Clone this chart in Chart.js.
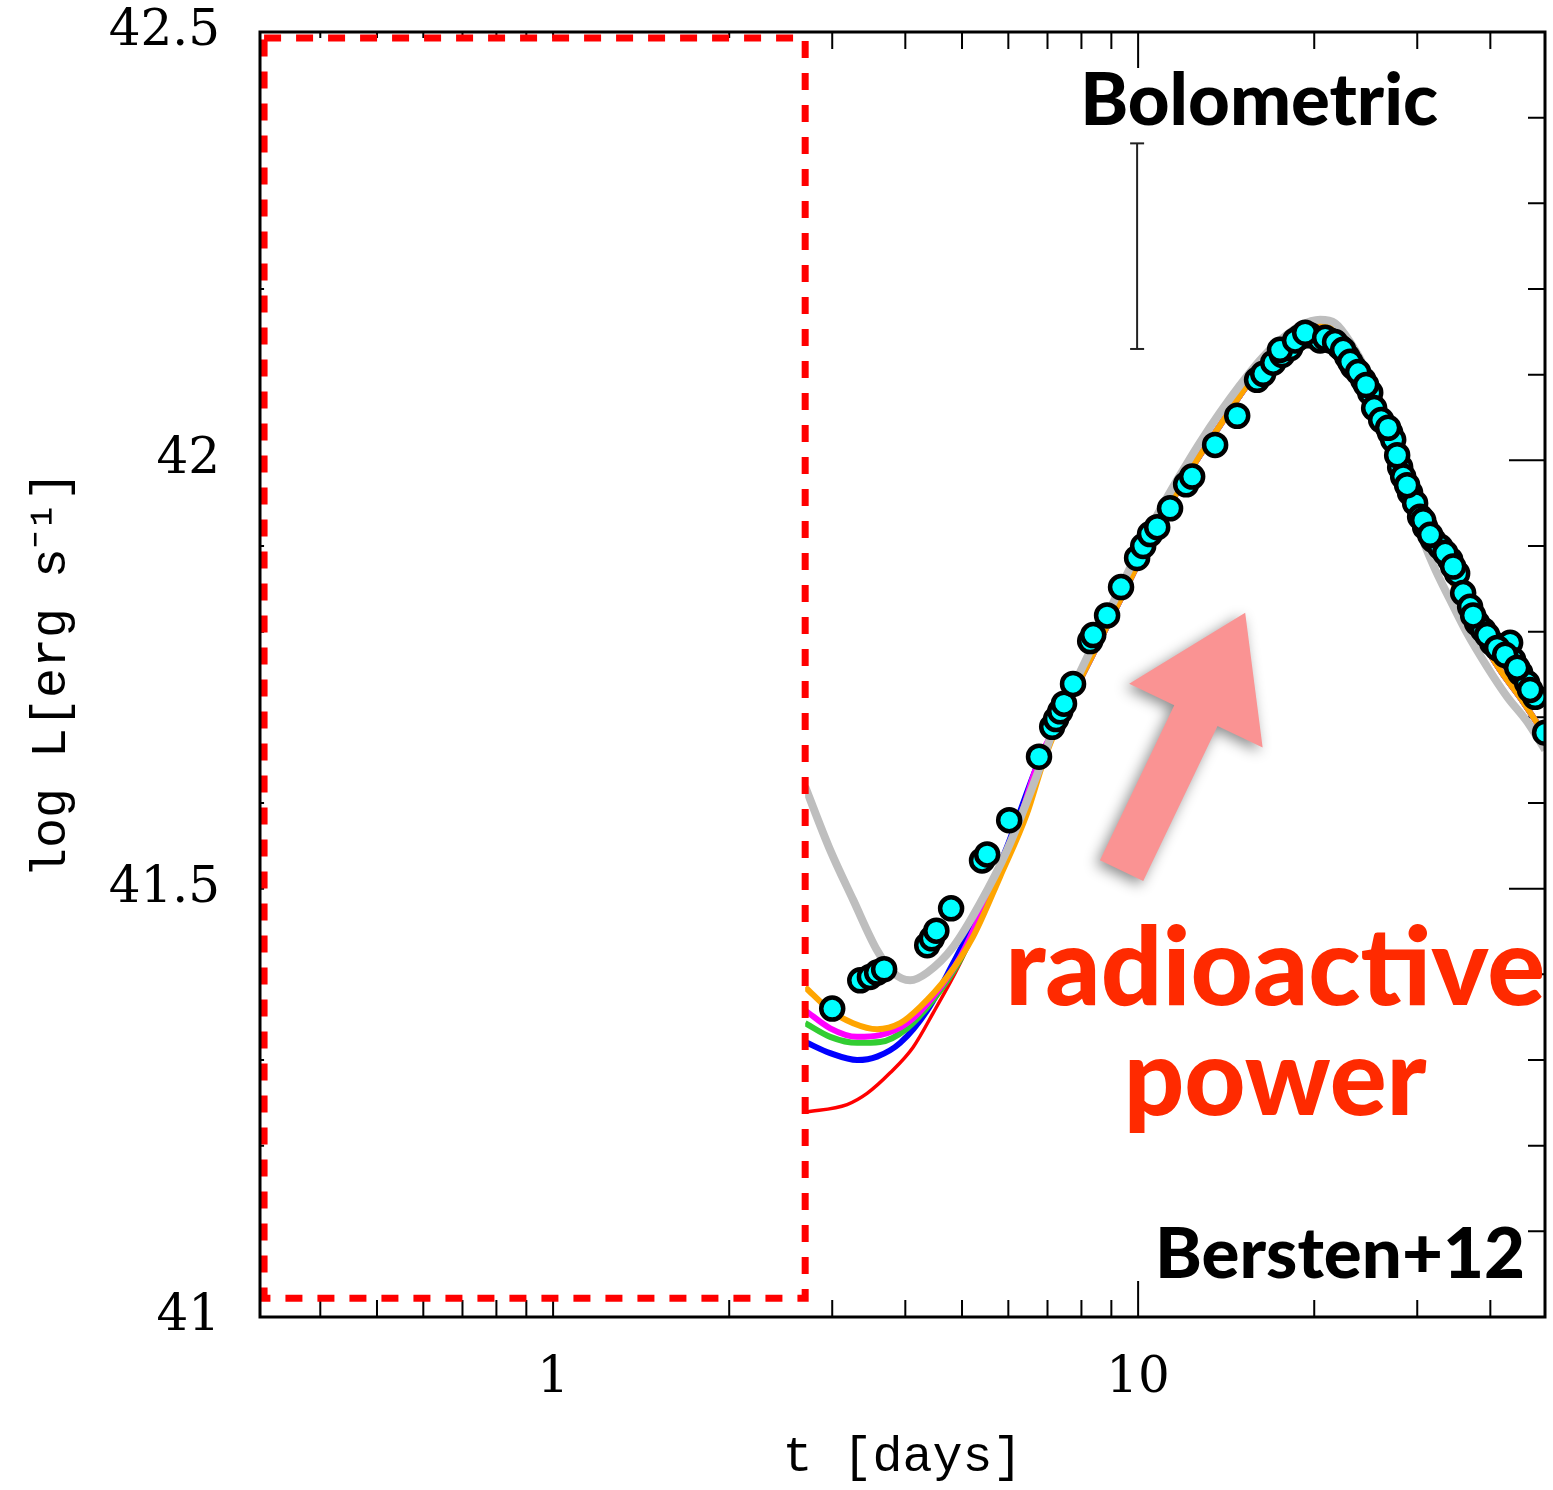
<!DOCTYPE html>
<html>
<head>
<meta charset="utf-8">
<style>
  html, body { margin: 0; padding: 0; background: #fff; overflow: hidden; }
  canvas { display: block; }
</style>
</head>
<body>
<div>
  <canvas id="lc-chart" width="1553" height="1490"></canvas>
</div>

<script src="https://cdn.jsdelivr.net/npm/chart.js"></script>

<script>
  // observed bolometric light curve (t in days, log L)
  const obsT = [3.00, 3.35, 3.48, 3.58, 3.68, 4.36, 4.44, 4.52, 4.79, 5.41, 5.52, 6.02, 6.77, 7.13, 7.24, 7.36, 7.47, 7.74, 8.28, 8.38,
    8.85, 9.35, 9.96, 10.20, 10.48, 10.78, 11.34, 12.08, 12.37, 13.54, 14.77, 15.97, 16.36, 17.02, 17.63, 18.19, 18.92, 19.68, 20.47, 21.29,
    22.14, 22.77, 23.31, 24.25, 24.93, 25.32, 26.03, 26.97, 27.29, 28.05, 28.38, 29.17, 29.75, 30.34, 30.95, 31.94, 32.83, 34.15, 35.10, 35.94,
    36.94, 37.97, 38.88, 40.28, 41.57, 43.24, 43.75, 44.98, 46.24, 47.71, 49.62,
    17.48, 18.55, 19.30, 20.88, 21.71, 22.41, 23.04, 23.77, 24.53, 26.75, 27.72, 28.83, 30.71, 31.56, 33.49, 34.55, 37.38, 39.50, 41.08, 42.40,
    44.45, 46.78]
  const obsL = [41.360, 41.393, 41.397, 41.402, 41.406, 41.434, 41.442, 41.451, 41.477, 41.533, 41.540, 41.580, 41.654, 41.689, 41.698, 41.707, 41.716, 41.739, 41.789, 41.796,
    41.819, 41.852, 41.886, 41.900, 41.914, 41.922, 41.944, 41.972, 41.981, 42.018, 42.052, 42.094, 42.101, 42.114, 42.123, 42.131, 42.144, 42.146, 42.140, 42.140,
    42.132, 42.121, 42.109, 42.094, 42.079, 42.061, 42.047, 42.032, 42.024, 41.992, 41.981, 41.962, 41.950, 41.934, 41.922, 41.907, 41.899, 41.884, 41.868, 41.845,
    41.829, 41.810, 41.802, 41.787, 41.779, 41.787, 41.767, 41.752, 41.740, 41.724, 41.682,
    42.129, 42.140, 42.149, 42.143, 42.138, 42.129, 42.115, 42.103, 42.088, 42.038, 42.006, 41.971, 41.930, 41.913, 41.892, 41.876, 41.819, 41.796, 41.781, 41.773,
    41.758, 41.732]

  // gray model
  const grayT = [2.697, 2.976, 3.257, 3.579, 3.813, 4.077, 4.360, 4.829, 5.369, 5.971, 6.719, 7.36, 7.96, 8.61, 9.32, 10.08, 10.90, 11.80, 12.76, 13.81,
    14.94, 16.16, 17.48, 18.92, 20.47, 21.71, 23.04, 24.63, 26.65, 28.05, 29.99, 31.94, 34.15, 36.51, 39.50, 42.74, 46.24, 49.62]
  const grayL = [41.619, 41.545, 41.487, 41.428, 41.402, 41.393, 41.402, 41.432, 41.483, 41.545, 41.633, 41.706, 41.753, 41.802, 41.851, 41.898, 41.942, 41.983, 42.021, 42.056,
    42.088, 42.117, 42.140, 42.157, 42.164, 42.160, 42.138, 42.102, 42.035, 41.989, 41.925, 41.878, 41.837, 41.798, 41.759, 41.724, 41.695, 41.662]

  // coloured models: early part differs, after ~7 d they share one track
  const tailT = [7.36, 7.96, 8.61, 9.32, 10.08, 10.90, 11.80, 12.76, 13.81, 14.94, 16.16, 17.48, 18.92, 20.07, 21.29, 22.59, 23.96, 25.93, 28.05, 30.35,
    32.83, 35.52, 38.42, 41.57, 44.98, 49.62]
  const tailL = [41.697, 41.744, 41.790, 41.837, 41.884, 41.928, 41.969, 42.006, 42.041, 42.076, 42.108, 42.133, 42.152, 42.161, 42.160, 42.146, 42.119, 42.070, 42.006, 41.942,
    41.890, 41.839, 41.794, 41.755, 41.723, 41.679]

  const orangeT = [2.697, 2.976, 3.257, 3.579, 3.920, 4.241, 4.716, 5.223, 5.808, 6.460, 6.880]
  const orangeL = [41.385, 41.358, 41.343, 41.336, 41.343, 41.362, 41.397, 41.444, 41.514, 41.588, 41.647]
  const magentaT = [2.697, 2.976, 3.309, 3.622, 4.029, 4.464, 4.963, 5.518, 6.114, 6.800]
  const magentaL = [41.358, 41.337, 41.327, 41.329, 41.343, 41.374, 41.420, 41.487, 41.557, 41.654]
  const greenT = [2.697, 2.976, 3.309, 3.622, 4.029, 4.464, 4.963, 5.518, 6.114, 6.800]
  const greenL = [41.343, 41.327, 41.320, 41.321, 41.337, 41.370, 41.417, 41.483, 41.553, 41.652]
  const blueT = [2.697, 2.976, 3.309, 3.579, 3.920, 4.360, 4.829, 5.369, 5.971, 6.800]
  const blueL = [41.321, 41.308, 41.300, 41.304, 41.320, 41.358, 41.413, 41.475, 41.549, 41.652]
  const redT = [2.697, 3.181, 3.441, 3.768, 4.125, 4.464, 4.963, 5.518, 6.114, 6.614, 6.800]
  const redL = [41.239, 41.248, 41.261, 41.285, 41.315, 41.355, 41.413, 41.483, 41.557, 41.615, 41.650]

  // typical error bar
  const errT = [9.96]
  const errLow = [42.13]
  const errHigh = [42.37]

  // masked early region (dashed box)
  const boxT = [0.3206, 2.697]
  const boxL = [41.022, 42.493]

  // arrow: tail -> tip
  const arrowT = [9.37, 15.24]
  const arrowL = [41.521, 41.822]

  // axes
  const xTickVals = [0.4, 0.5, 0.6, 0.7, 0.8, 0.9, 1, 2, 3, 4, 5, 6, 7, 8, 9, 10, 20, 30, 40]
  const xLabelVals = [1, 10]
  const yTickVals = [41, 41.1, 41.2, 41.3, 41.4, 41.5, 41.6, 41.7, 41.8, 41.9, 42, 42.1, 42.2, 42.3, 42.4, 42.5]
  const yLabelVals = [41, 41.5, 42, 42.5]

  // annotation texts: [text, t, logL(baseline), width px, colour]
  const notes = [
    ['Bolometric', 16.1, 42.391, 358, '#000'],
    ['Bersten+12', 22.14, 41.046, 370, '#000'],
    ['radioactive', 17.15, 41.364, 540, '#ff2a00'],
    ['power', 17.15, 41.236, 303, '#ff2a00'],
  ]

  const pts = (ts, ls) => ts.map((t, i) => ({x: t, y: ls[i]}))

  const curve = (data, color, width, order) => ({
    data, showLine: true, borderColor: color, borderWidth: width,
    pointRadius: 0, cubicInterpolationMode: 'monotone', clip: 0, order
  })

  const overlay = {
    id: 'overlay',
    beforeDatasetsDraw(chart) {
      const {ctx, chartArea: a, scales: {x, y}} = chart
      ctx.save()
      ctx.strokeStyle = '#000'
      ctx.lineWidth = 2
      ctx.beginPath()
      xTickVals.forEach(v => {
        const px = x.getPixelForValue(v)
        const len = xLabelVals.includes(v) ? 36 : 17
        ctx.moveTo(px, a.bottom); ctx.lineTo(px, a.bottom - len)
        ctx.moveTo(px, a.top); ctx.lineTo(px, a.top + len)
      })
      yTickVals.forEach(v => {
        const py = y.getPixelForValue(v)
        const len = yLabelVals.includes(v) ? 36 : 17
        ctx.moveTo(a.left, py); ctx.lineTo(a.left + len, py)
        ctx.moveTo(a.right, py); ctx.lineTo(a.right - len, py)
      })
      ctx.stroke()
      ctx.restore()
    },
    afterDatasetsDraw(chart) {
      const {ctx, chartArea: a, scales: {x, y}} = chart
      ctx.save()

      // white mask with red dashed edge
      const bx0 = x.getPixelForValue(boxT[0]), bx1 = x.getPixelForValue(boxT[1])
      const by0 = y.getPixelForValue(boxL[1]), by1 = y.getPixelForValue(boxL[0])
      ctx.fillStyle = '#fff'
      ctx.fillRect(bx0, by0, bx1 - bx0, by1 - by0)
      ctx.strokeStyle = '#ff0000'
      ctx.lineWidth = 7
      ctx.setLineDash([17, 15])
      ctx.strokeRect(bx0, by0, bx1 - bx0, by1 - by0)
      ctx.setLineDash([])

      // frame
      ctx.strokeStyle = '#000'
      ctx.lineWidth = 3
      ctx.strokeRect(a.left, a.top, a.right - a.left, a.bottom - a.top)

      // arrow
      const p0 = {x: x.getPixelForValue(arrowT[0]), y: y.getPixelForValue(arrowL[0])}
      const p1 = {x: x.getPixelForValue(arrowT[1]), y: y.getPixelForValue(arrowL[1])}
      const dx = p1.x - p0.x, dy = p1.y - p0.y, d = Math.hypot(dx, dy)
      const ux = dx / d, uy = dy / d, nx = -uy, ny = ux
      const w = 24, hw = 74, hl = 114
      const nk = {x: p1.x - ux * hl, y: p1.y - uy * hl}
      ctx.beginPath()
      ctx.moveTo(p0.x + nx * w, p0.y + ny * w)
      ctx.lineTo(nk.x + nx * w, nk.y + ny * w)
      ctx.lineTo(nk.x + nx * hw, nk.y + ny * hw)
      ctx.lineTo(p1.x, p1.y)
      ctx.lineTo(nk.x - nx * hw, nk.y - ny * hw)
      ctx.lineTo(nk.x - nx * w, nk.y - ny * w)
      ctx.lineTo(p0.x - nx * w, p0.y - ny * w)
      ctx.closePath()
      ctx.shadowColor = 'rgba(0,0,0,0.45)'
      ctx.shadowBlur = 14
      ctx.shadowOffsetX = -4
      ctx.shadowOffsetY = 4
      ctx.fillStyle = '#fa9393'
      ctx.fill()
      ctx.shadowColor = 'transparent'

      // labels
      ctx.textAlign = 'center'
      ctx.textBaseline = 'alphabetic'
      notes.forEach(([txt, t, l, tw, col]) => {
        ctx.font = '900 100px Lato'
        const s = 100 * tw / ctx.measureText(txt).width
        ctx.font = `900 ${s}px Lato`
        ctx.fillStyle = col
        ctx.fillText(txt, x.getPixelForValue(t), y.getPixelForValue(l))
      })
      ctx.restore()
    }
  }

  let ctx = document.getElementById('lc-chart').getContext('2d')

  const chart = new Chart(ctx, {
    type: 'scatter',
    data: {
      datasets: [
        {
          data: pts(obsT, obsL),
          backgroundColor: '#00ffff', borderColor: '#000',
          pointRadius: 11, borderWidth: 4.5, clip: 0, order: 0
        },
        {
          data: [{x: errT[0], y: errLow[0]}, {x: errT[0], y: errHigh[0]}],
          showLine: true, borderColor: '#222', borderWidth: 2,
          pointStyle: 'line', pointRadius: 7, pointBorderWidth: 2, pointBorderColor: '#222', order: 1
        },
        curve(pts(grayT, grayL), '#bebebe', 8, 2),
        curve(pts(orangeT, orangeL).concat(pts(tailT, tailL)), '#ffa500', 6, 3),
        curve(pts(magentaT, magentaL).concat(pts(tailT, tailL)), '#ff00ff', 6, 4),
        curve(pts(greenT, greenL).concat(pts(tailT, tailL)), '#32cd32', 6, 5),
        curve(pts(blueT, blueL).concat(pts(tailT, tailL)), '#0000ff', 6, 6),
        curve(pts(redT, redL).concat(pts(tailT, tailL)), '#ff0000', 3.5, 7),
      ]
    },
    options: {
      responsive: false,
      animation: false,
      layout: {autoPadding: false, padding: {top: 32, right: 8, left: 0, bottom: 0}},
      plugins: {legend: {display: false}, tooltip: {enabled: false}},
      scales: {
        x: {
          type: 'logarithmic', min: 0.3155, max: 49.6, bounds: 'data',
          grid: {display: false}, border: {display: false},
          afterBuildTicks: s => { s.ticks = xTickVals.map(v => ({value: v})) },
          afterFit: s => { s.height = 173; s.paddingLeft = 0; s.paddingRight = 0 },
          ticks: {
            autoSkip: false, maxRotation: 0, padding: 24, color: '#000',
            font: {family: 'DejaVu Serif', size: 50},
            callback: v => xLabelVals.includes(v) ? String(v) : ''
          },
          title: {
            display: true, text: 't [days]', color: '#000',
            font: {family: 'Liberation Mono', size: 50}, padding: {top: 0, bottom: 2}
          }
        },
        y: {
          min: 41, max: 42.5,
          grid: {display: false}, border: {display: false},
          afterBuildTicks: s => { s.ticks = yTickVals.map(v => ({value: v})) },
          afterFit: s => { s.width = 260; s.paddingTop = 0; s.paddingBottom = 0 },
          ticks: {
            autoSkip: false, padding: 32, color: '#000',
            font: {family: 'DejaVu Serif', size: 50},
            callback: v => yLabelVals.includes(v) ? String(v) : ''
          },
          title: {
            display: true, text: 'log L[erg s\u207B\u00B9]', color: '#000',
            font: {family: 'Liberation Mono', size: 50}, padding: {top: 22, bottom: 0}
          }
        }
      }
    },
    plugins: [overlay]
  })
</script>
</body>
</html>
